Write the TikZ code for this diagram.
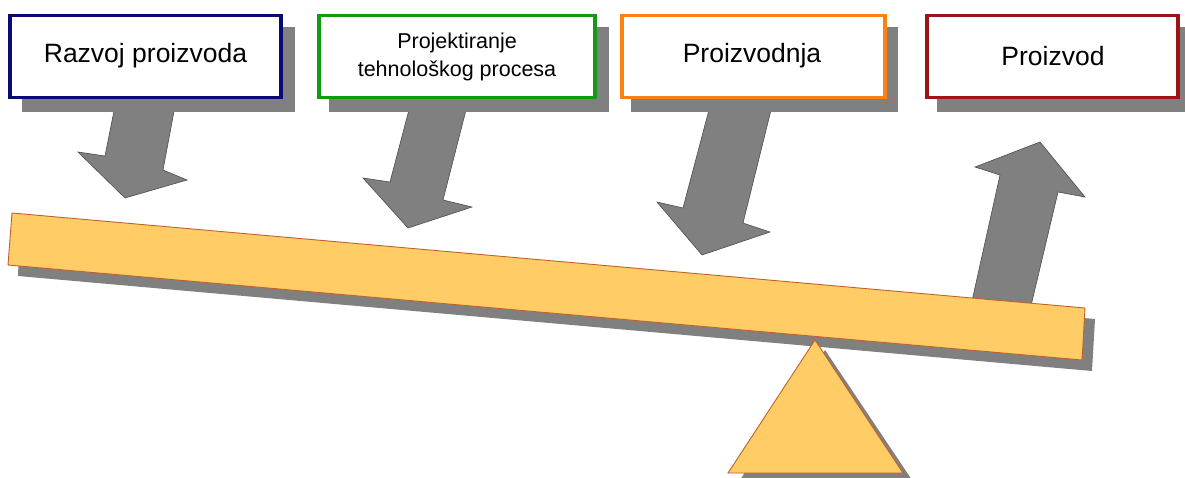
\documentclass[tikz,border=0pt]{standalone}
\usepackage{fontspec}
\setmainfont{Liberation Sans}
\definecolor{navy}{HTML}{0A0A70}
\definecolor{grn}{HTML}{139A13}
\definecolor{orng}{HTML}{FF7F10}
\definecolor{dred}{HTML}{9A1515}
\definecolor{shad}{HTML}{808080}
\definecolor{wood}{HTML}{FFCC66}
\definecolor{woodline}{HTML}{C0622A}
\begin{document}
\begin{tikzpicture}[x=1pt,y=-1pt,
  box/.style={draw, line width=3.6pt, fill=white, minimum width=269pt, minimum height=82pt, inner sep=0pt},
  bigtxt/.style={font=\fontsize{26.5}{30}\selectfont},
  smalltxt/.style={font=\fontsize{21.5}{28}\selectfont, align=center},
  shadowbox/.style={fill=shad},
  blockarrow/.style={fill=shad, draw=black!70, line width=0.6pt},
  woodpart/.style={fill=wood, draw=woodline, line width=0.9pt}]
\useasboundingbox (0,0) rectangle (1185,477);

% block arrows (drawn first, below box shadows)
\draw[blockarrow] (115,106) -- (175,106) -- (163,170) -- (187,180) -- (125,198) -- (78,152) -- (105,156) -- cycle;
\draw[blockarrow] (410,106) -- (467,106) -- (443,200) -- (472,207) -- (408,228) -- (363,178) -- (390,182) -- cycle;
\draw[blockarrow] (710,106) -- (772,106) -- (743,223) -- (770,232) -- (702,255) -- (657,202) -- (683,208) -- cycle;
\draw[blockarrow] (970,310) -- (1000,175) -- (975,167) -- (1040,142) -- (1085,197) -- (1058,192) -- (1030,310) -- cycle;

% box shadows
\fill[shadowbox] (22,27) rectangle (295,112);
\fill[shadowbox] (329,27) rectangle (609,112);
\fill[shadowbox] (631,27) rectangle (898,112);
\fill[shadowbox] (937,27) rectangle (1190,112);

% boxes
\node[box, draw=navy, minimum width=271pt] (b1) at (145.5,56.5) {};
\node[bigtxt] (t1) at (145.5,56) {Razvoj proizvoda};
\node[box, draw=grn, minimum width=276pt] (b2) at (457,56.5) {};
\node[smalltxt] (t2) at (457,57) {Projektiranje\\tehnološkog procesa};
\node[box, draw=orng, minimum width=263pt] (b3) at (753.5,56.5) {};
\node[bigtxt] (t3) at (752,56) {Proizvodnja};
\node[box, draw=dred, minimum width=251pt] (b4) at (1052.5,56.5) {};
\node[bigtxt] (t4) at (1053,56) {Proizvod};

% seesaw
\fill[shad] (20,224) -- (1095,319) -- (1092,371) -- (18,276) -- cycle;
\fill[shad] (825,350) -- (914,483) -- (738,483) -- cycle;
\draw[woodpart] (815,340) -- (903,473) -- (728,473) -- cycle;
\draw[woodpart] (12,213) -- (1085,308) -- (1082,360) -- (8,265) -- cycle;
\end{tikzpicture}
\end{document}
